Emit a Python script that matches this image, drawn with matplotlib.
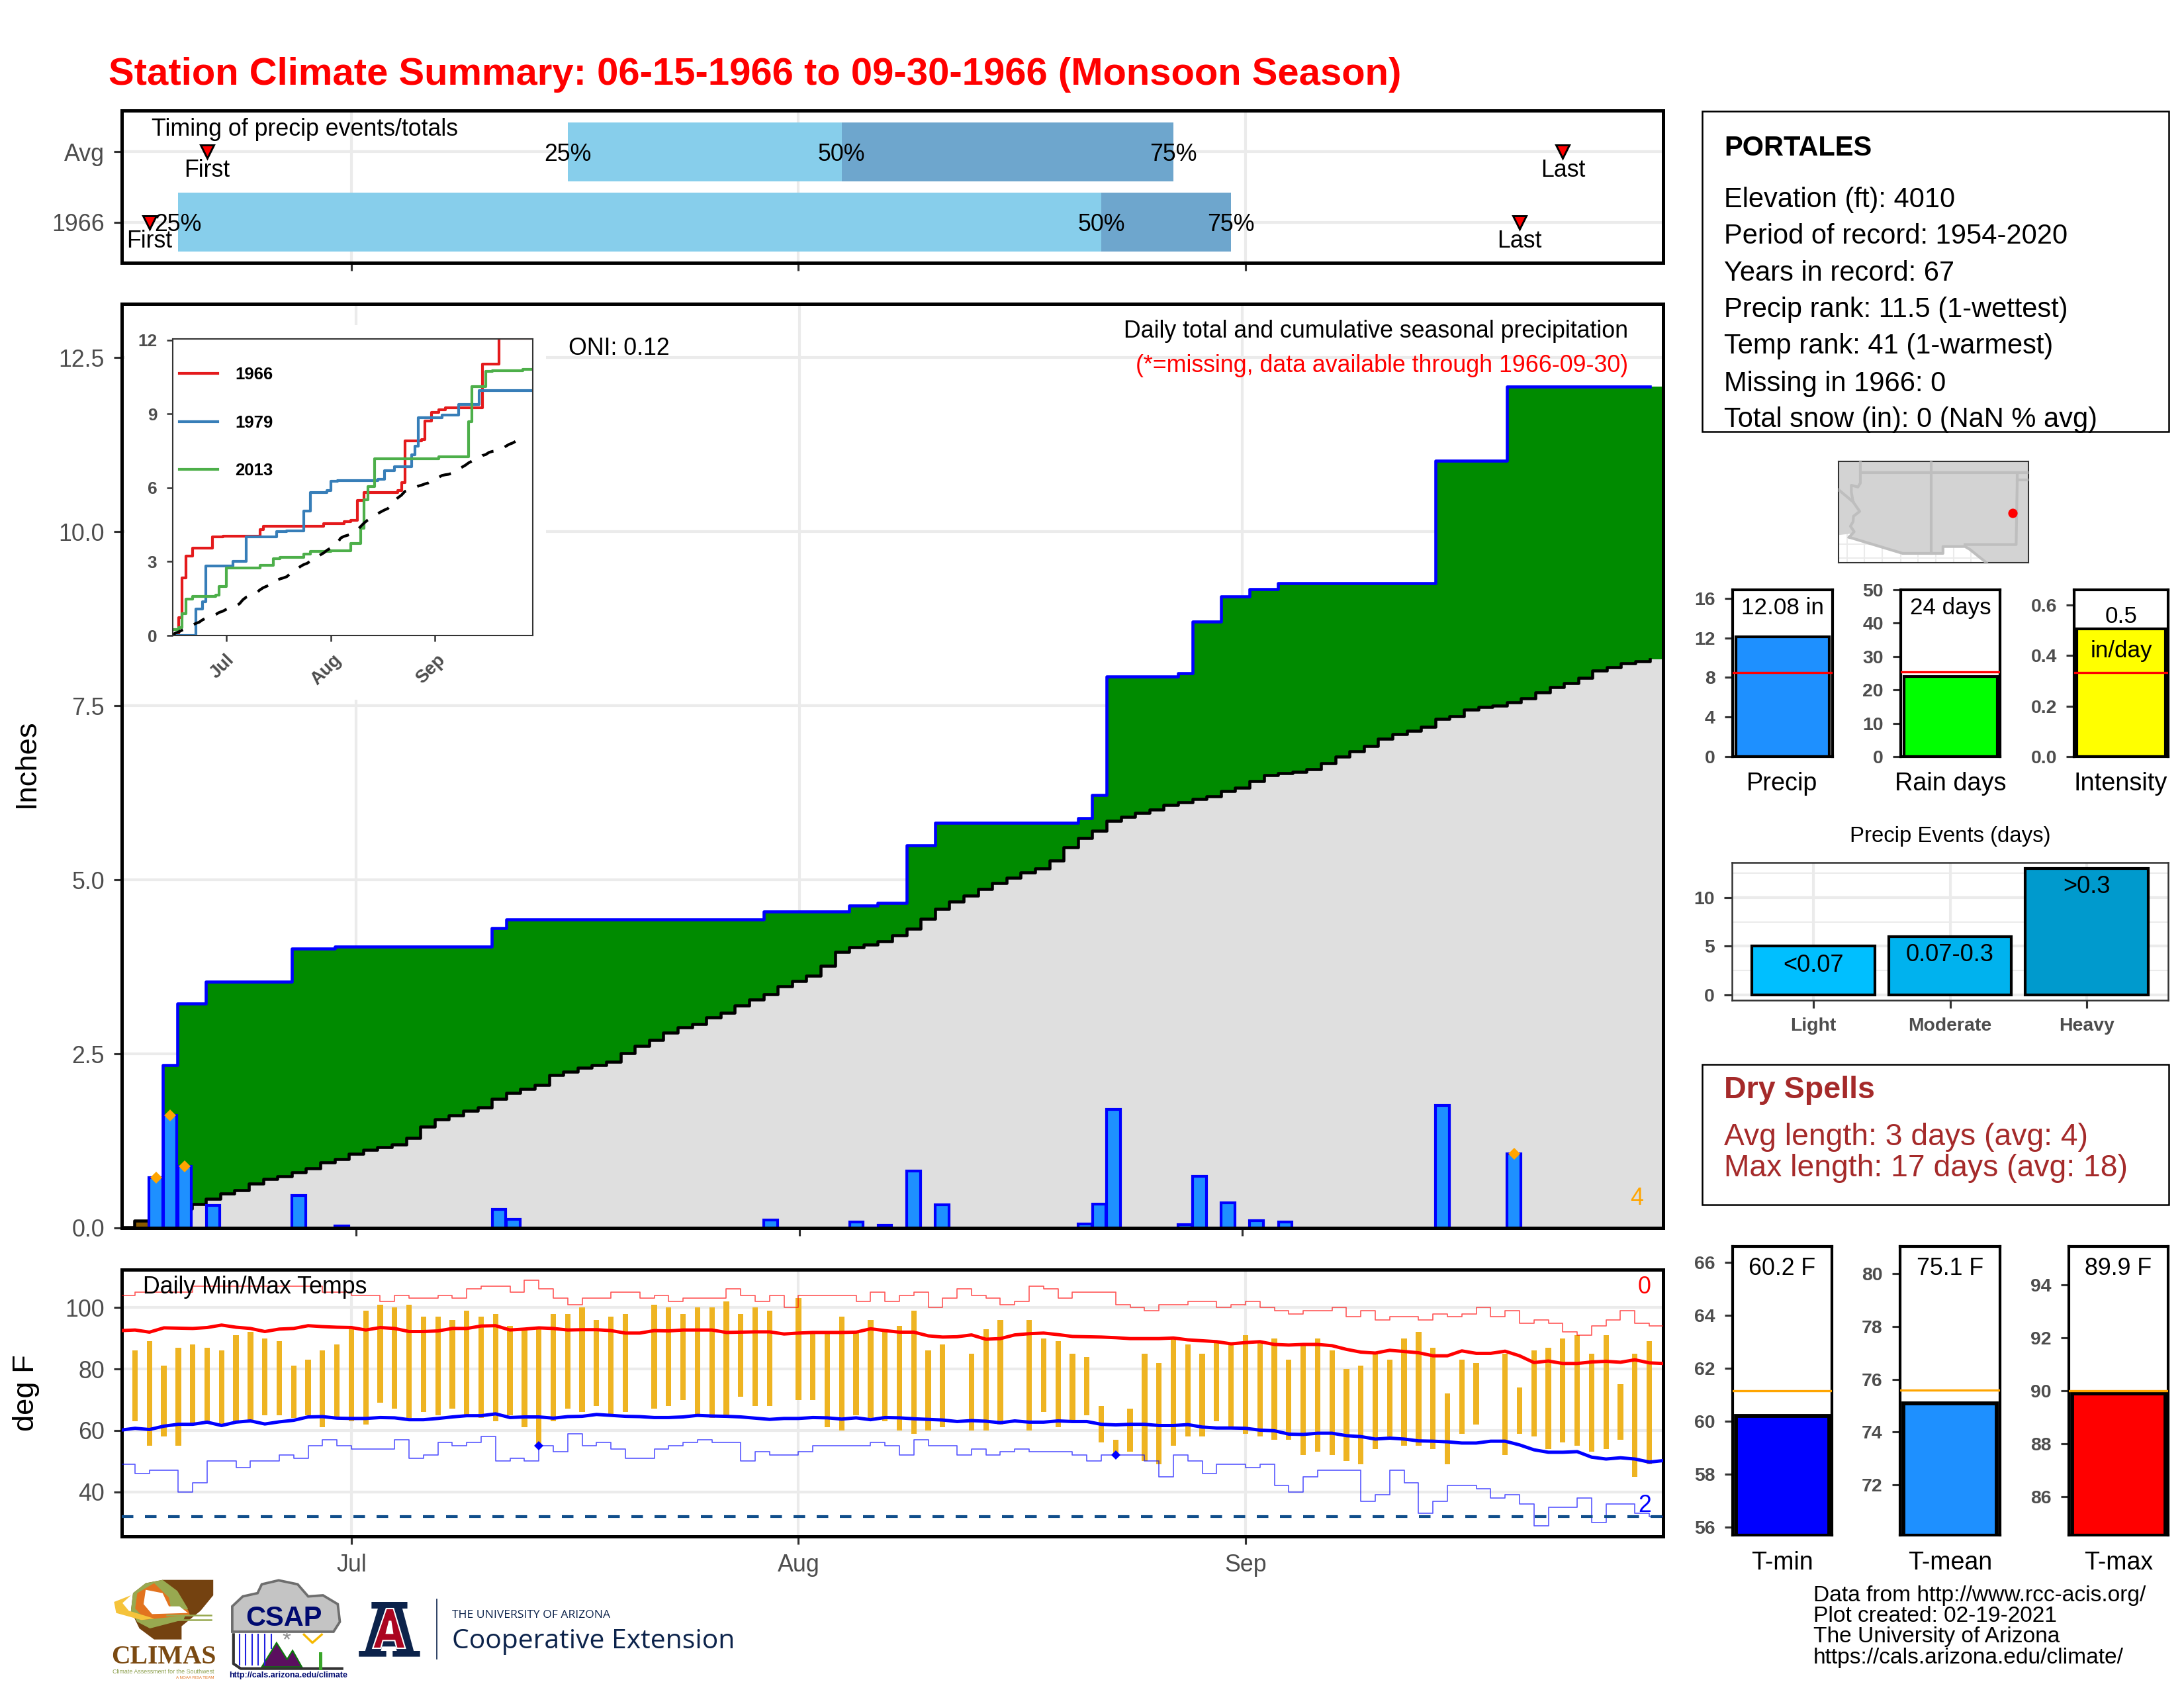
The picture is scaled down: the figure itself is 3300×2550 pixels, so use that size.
import numpy as np
import matplotlib
matplotlib.use('Agg')
import matplotlib.pyplot as plt
from matplotlib.patches import Polygon, Rectangle
from matplotlib.transforms import ScaledTranslation

plt.rcParams['font.family'] = ['Liberation Sans', 'DejaVu Sans']

W, H = 3300, 2550
na = np.nan

# x axis: days since Jun 15
days = np.arange(108)
month_days = [16, 47, 78]
month_labels = ['Jul', 'Aug', 'Sep']

# precip events (day index, inches)
rain_day = [2, 3, 4, 6, 12, 15, 26, 27, 45, 51, 53, 55, 57, 67, 68, 69, 74, 75, 77, 79, 81, 92, 97]
rain_amt = [.72, 1.62, .88, .32, .47, .03, .27, .12, .11, .09, .04, .82, .33, .06, .34, 1.70, .05, .74, .36, .10, .09, 1.76, 1.06]
record_rain_days = [2, 3, 4, 97]

# climatological cumulative precip
climo = [.01, .10, .15, .22, .28, .34, .42, .49, .54, .635, .70, .74, .80, .86, .94, .985, 1.06, 1.12,
         1.155, 1.20, 1.295, 1.455, 1.56, 1.615, 1.68, 1.73, 1.85, 1.94, 2.0, 2.05, 2.2, 2.24, 2.30,
         2.34, 2.39, 2.51, 2.61, 2.70, 2.80, 2.88, 2.93, 3.02, 3.09, 3.19, 3.28, 3.36, 3.47, 3.55,
         3.62, 3.76, 3.96, 4.03, 4.07, 4.12, 4.20, 4.30, 4.44, 4.58, 4.69, 4.77, 4.87, 4.95, 5.03,
         5.10, 5.16, 5.28, 5.47, 5.60, 5.70, 5.85, 5.90, 5.96, 6.01, 6.07, 6.11, 6.16, 6.20, 6.27,
         6.32, 6.42, 6.50, 6.53, 6.55, 6.59, 6.67, 6.77, 6.84, 6.92, 7.02, 7.09, 7.14, 7.20, 7.31,
         7.35, 7.44, 7.48, 7.50, 7.55, 7.60, 7.69, 7.77, 7.82, 7.90, 8.00, 8.05, 8.11, 8.14, 8.17]

# other wet years for the inset
y1979_day = [0, 7, 9, 10, 18, 22, 31, 34, 39, 41, 46, 47, 49, 61, 63, 66, 71, 72, 73, 80, 85, 91, 95]
y1979_cum = [0, 1.07, 1.36, 2.82, 3.01, 4.01, 4.22, 4.26, 5.07, 5.80, 5.89, 6.28, 6.30, 6.35, 6.69, 6.85,
             7.33, 7.69, 8.86, 8.96, 9.39, 9.94, 9.96]
y2013_day = [0, 2, 3, 4, 6, 13, 14, 16, 26, 30, 32, 39, 41, 47, 53, 56, 57, 58, 60, 79, 88, 89, 93, 95, 104]
y2013_cum = [.25, .32, .89, 1.47, 1.58, 1.64, 2.0, 2.74, 2.86, 3.11, 3.18, 3.32, 3.42, 3.45, 3.75, 4.37,
             5.51, 6.06, 7.18, 7.26, 8.69, 10.11, 10.73, 10.77, 10.82]

# daily temps
tmax_obs = [na, 86, 89, 81, 87, 88, 87, 86, 91, 92, 90,
            89, 81, 83, 86, 88, 93, 99, 101, 100, 101,
            97, 97, 96, 99, 97, 98, 94, 93, 93, 98,
            98, 100, 96, 97, 98, na, 101, 100, 98, 100,
            100, 102, 98, 100, 99, na, 103, 92, 92, 97,
            92, 96, 92, 94, 99, 86, 88, na, 85, 93,
            96, na, 96, 90, 89, 85, 84, 68, 57, 67,
            85, 82, 90, 88, 85, 89, 88, 91, 89, 90,
            83, 88, 90, 86, 80, 81, 85, 83, 90, 92,
            87, 72, 83, 82, na, 85, 74, 86, 87, 90,
            91, 85, 91, 75, 85, 89, na]
tmin_obs = [na, 63, 55, 58, 55, 62, 63, 62, 63, 63, 65,
            65, 64, 65, 61, 64, 63, 62, 69, 67, 64,
            66, 65, 67, 65, 64, 63, 65, 61, 55, 63,
            67, 66, 68, 65, 66, na, 67, 68, 70, 65,
            64, 65, 71, 68, 68, na, 70, 70, 61, 60,
            65, 64, 63, 60, 59, 60, 61, na, 60, 60,
            62, na, 60, 66, 61, 63, 65, 56, 52, 53,
            50, 49, 55, 58, 58, 63, 61, 59, 58, 57,
            57, 52, 53, 52, 50, 49, 54, 58, 55, 55,
            54, 49, 59, 62, na, 52, 59, 58, 54, 56,
            55, 53, 54, 57, 45, 49, na]
rec_max = [104, 105, 105, 105, 105, 107, 107, 107, 107, 107, 107, 107, 107, 107, 105, 105, 104, 104, 102, 104,
           103, 103, 104, 103, 106, 107, 107, 105, 109, 106, 103, 101, 103, 103, 105, 105, 103, 104, 102, 103,
           103, 103, 106, 104, 102, 104, 100, 104, 104, 104, 104, 102, 105, 102, 104, 105, 100, 103, 106, 104,
           103, 101, 102, 107, 106, 103, 105, 105, 105, 101, 100, 99, 101, 101, 102, 102, 100, 101, 102, 100,
           99, 98, 99, 99, 100, 97, 99, 96, 97, 97, 96, 98, 97, 98, 100, 97, 99, 95, 96, 95,
           92, 91, 94, 96, 99, 95, 94, 94]
rec_min = [49, 46, 47, 47, 40, 43, 50, 50, 48, 50, 50, 52, 51, 55, 57, 55, 54, 54, 54, 57,
           51, 52, 56, 55, 56, 58, 50, 51, 50, 55, 53, 59, 55, 56, 54, 51, 51, 54, 55, 56,
           57, 56, 56, 50, 53, 52, 52, 53, 55, 55, 55, 55, 56, 55, 52, 57, 55, 55, 52, 54,
           52, 53, 54, 53, 53, 53, 52, 50, 52, 52, 52, 50, 45, 52, 50, 46, 49, 49, 48, 49,
           42, 40, 45, 47, 47, 47, 37, 39, 47, 43, 33, 37, 42, 42, 41, 38, 39, 36, 29, 35,
           35, 38, 30, 36, 36, 33, 32, 32]
norm_max = [92.5, 92.7, 92.0, 93.4, 93.3, 93.2, 93.5, 94.3, 93.6, 93.2, 92.2, 93.0, 93.2, 94.1, 93.8, 93.6, 93.5,
            92.7, 93.5, 93.2, 92.2, 92.2, 92.4, 93.2, 93.2, 94.0, 94.1, 92.7, 93.0, 93.4, 93.2, 92.7, 92.8, 92.8,
            92.5, 91.7, 91.7, 92.5, 92.4, 92.7, 92.7, 92.7, 91.9, 92.0, 92.1, 92.1, 91.4, 91.7, 91.9, 91.9,
            91.9, 92.0, 93.1, 92.5, 92.0, 92.0, 90.8, 90.4, 90.5, 91.1, 89.7, 89.9, 91.1, 91.5, 91.7, 91.2,
            90.6, 90.5, 90.4, 90.2, 89.9, 89.9, 89.9, 90.1, 89.5, 89.2, 88.9, 88.2, 88.6, 88.9, 88.0, 87.8,
            88.0, 88.0, 87.6, 86.4, 85.5, 85.2, 86.1, 85.7, 85.3, 84.3, 84.3, 85.9, 85.1, 85.1, 85.8, 84.3,
            82.1, 82.6, 81.8, 81.8, 82.3, 82.5, 82.2, 83.0, 82.0, 81.8]
norm_min = [60.1, 60.7, 60.3, 61.4, 62.0, 62.0, 62.7, 61.6, 62.7, 63.1, 62.1, 62.8, 63.3, 64.4, 64.5, 64.0, 63.9,
            63.9, 64.2, 64.1, 63.5, 63.5, 63.9, 64.4, 64.8, 64.8, 65.4, 64.2, 64.4, 64.4, 64.0, 64.5, 64.6, 65.2,
            64.9, 64.6, 64.5, 64.2, 64.2, 64.4, 64.9, 64.7, 64.6, 64.4, 64.0, 63.6, 63.9, 63.9, 64.2, 64.1,
            63.7, 64.1, 63.5, 64.2, 64.1, 63.8, 63.6, 63.4, 62.9, 63.2, 63.0, 62.5, 63.1, 62.7, 62.7, 63.1,
            62.9, 62.9, 62.0, 61.8, 62.0, 62.0, 61.6, 61.6, 61.9, 61.1, 60.8, 60.8, 60.7, 60.1, 59.9, 58.8,
            58.7, 59.1, 59.1, 58.3, 58.0, 57.2, 57.5, 57.2, 56.6, 56.5, 56.3, 55.9, 55.9, 56.5, 56.5, 55.3,
            53.7, 52.9, 52.9, 53.1, 51.3, 50.7, 51.1, 50.7, 49.7, 50.2]
record_tmin_days = [29, 69]
record_tmin_vals = [55, 52]

# timing panel
timing_labels = ['1966', 'Avg']
timing_q25 = [4, 31]
timing_q50 = [68, 50]
timing_q75 = [77, 73]
timing_first = [2, 6]
timing_last = [97, 100]

# summary bars
precip_total, precip_avg = 12.08, 8.5
rain_days_total, rain_days_avg = 24, 25.4
intensity, intensity_avg = 0.505, 0.333
event_names = ['Light', 'Moderate', 'Heavy']
event_days = [5, 6, 13]
event_text = ['<0.07', '0.07-0.3', '>0.3']
event_colors = ['#00BFFF', '#00B2EE', '#009ACD']
temp_names = ['T-min', 'T-mean', 'T-max']
temp_vals = [60.2, 75.1, 89.9]
temp_avgs = [61.16, 75.6, 90.0]

station_lines = ['Elevation (ft): 4010', 'Period of record: 1954-2020', 'Years in record: 67',
                 'Precip rank: 11.5 (1-wettest)', 'Temp rank: 41 (1-warmest)', 'Missing in 1966: 0',
                 'Total snow (in): 0 (NaN % avg)']
credit_lines = ['Data from http://www.rcc-acis.org/', 'Plot created: 02-19-2021',
                'The University of Arizona', 'https://cals.arizona.edu/climate/']

GREY_TXT = '#4D4D4D'
GRID = '#EBEBEB'


def px_axes(fig, x0, y0, x1, y1, **kw):
    """axes from pixel box, y measured from the top of the image"""
    return fig.add_axes([x0 / W, 1 - y1 / H, (x1 - x0) / W, (y1 - y0) / H], **kw)


def px_text(x, y, s, **kw):
    kw.setdefault('ha', 'left')
    kw.setdefault('va', 'center')
    return fig.text(x / W, 1 - (y + 4) / H, s, **kw)


def style_axes(ax, lw=1.2, color='black'):
    for sp in ax.spines.values():
        sp.set_linewidth(lw)
        sp.set_color(color)
    ax.tick_params(length=2.8, width=0.75, color='#333333', labelcolor=GREY_TXT)
    ax.set_axisbelow(True)


fig = plt.figure(figsize=(W / 300, H / 300), dpi=300, facecolor='white')
px_text(164, 109, 'Station Climate Summary: 06-15-1966 to 09-30-1966 (Monsoon Season)',
        color='red', fontweight='bold', fontsize=13.92)

# timing panel
ax_t = px_axes(fig, 184, 167, 2513, 397)
style_axes(ax_t)
ax_t.grid(True, color=GRID, lw=1.0)
ypos = np.arange(2)
ax_t.barh(ypos, np.array(timing_q50) - np.array(timing_q25), left=timing_q25, height=0.833, color='#87CEEB', zorder=2)
ax_t.barh(ypos, np.array(timing_q75) - np.array(timing_q50), left=timing_q50, height=0.833, color='#6EA6CD', zorder=2)
ax_t.plot(timing_first, ypos, 'v', color='red', mec='black', mew=0.7, ms=5, zorder=3)
ax_t.plot(timing_last, ypos, 'v', color='red', mec='black', mew=0.7, ms=5, zorder=3)
for i in ypos:
    for val, lab in zip([timing_q25[i], timing_q50[i], timing_q75[i]], ['25%', '50%', '75%']):
        ax_t.text(val, i - 0.04, lab, ha='center', va='center', fontsize=8.6, zorder=4)
    ax_t.text(timing_first[i], i - 0.27, 'First', ha='center', va='center', fontsize=8.6, zorder=4)
    ax_t.text(timing_last[i], i - 0.27, 'Last', ha='center', va='center', fontsize=8.6, zorder=4)
ax_t.text(2.15, 1.315, 'Timing of precip events/totals', fontsize=8.6, va='center', zorder=4)
ax_t.set_xlim(0.08, 106.96)
ax_t.set_ylim(-0.576, 1.585)
ax_t.set_xticks(month_days)
ax_t.set_xticklabels([])
ax_t.set_yticks(ypos)
ax_t.set_yticklabels(timing_labels, fontsize=8.6)

# main precip panel
ax_m = px_axes(fig, 184, 459, 2513, 1855)
style_axes(ax_m)
ax_m.grid(True, color=GRID, lw=1.0)
daily = np.zeros(108)
daily[rain_day] = rain_amt
cum = np.cumsum(daily)
climo_arr = np.array(climo)
xstep = days - 0.5
x_fill = np.append(xstep, 107.44)
cum_fill = np.append(cum, cum[-1])
climo_fill = np.append(climo_arr, climo_arr[-1])
below = cum_fill < climo_fill
ax_m.fill_between(x_fill, 0, climo_fill, step='post', color='#DFDFDF', lw=0, zorder=2)
ax_m.fill_between(x_fill, climo_fill, cum_fill, where=~below, step='post', color='#008B00', lw=0, zorder=2)
# the last dry day needs the next point so the step is closed
ax_m.fill_between(x_fill, cum_fill, climo_fill, where=below | np.roll(below, 1), step='post', color='#8B5A00', lw=0, zorder=2)
ax_m.step(xstep, climo_arr, where='post', color='black', lw=1.1, zorder=3)
ax_m.step(xstep, cum, where='post', color='blue', lw=1.1, zorder=3)
ax_m.bar(rain_day, rain_amt, width=0.95, color='#1E90FF', edgecolor='blue', lw=1.0, zorder=4)
ax_m.plot(record_rain_days, daily[record_rain_days], 'D', color='#FFA500', ms=3, mew=0, zorder=5, clip_on=False)
ax_m.set_xlim(-0.39, 107.44)
ax_m.set_ylim(0, 13.27)
ax_m.set_xticks(month_days)
ax_m.set_xticklabels([])
ax_m.set_yticks([0, 2.5, 5, 7.5, 10, 12.5])
ax_m.set_yticklabels(['0.0', '2.5', '5.0', '7.5', '10.0', '12.5'], fontsize=8.6)
ax_m.spines['bottom'].set_zorder(6)
px_text(40, 1149, 'Inches', rotation=90, ha='center', fontsize=10.9)
px_text(2460, 497, 'Daily total and cumulative seasonal precipitation', ha='right', fontsize=8.6)
px_text(2460, 549, '(*=missing, data available through 1966-09-30)', ha='right', color='red', fontsize=8.6)
px_text(859, 522, 'ONI: 0.12', fontsize=8.6)
px_text(2473, 1806, '4', ha='center', color='#FFA500', fontsize=8.6)

# inset, on a white patch that covers the main grid
fig.add_artist(Rectangle((189 / W, 1 - 1057 / H), 636 / W, 566 / H, transform=fig.transFigure, fc='white', ec='none', zorder=2.5))
ax_i = px_axes(fig, 261, 512, 805, 960, zorder=3)
style_axes(ax_i, lw=0.5, color='#333333')
ax_i.tick_params(length=2.2, width=0.6, labelsize=6)
ax_i.step(days, cum, where='post', color='#E41A1C', lw=1.0)
ax_i.step(y1979_day + [107], y1979_cum + [y1979_cum[-1]], where='post', color='#377EB8', lw=1.0)
ax_i.step(y2013_day + [107], y2013_cum + [y2013_cum[-1]], where='post', color='#4DAF4A', lw=1.0)
ax_i.plot(days[:106], climo_arr[:106], color='black', lw=1.0, dashes=(4.4, 4.4))
ax_i.set_xlim(0.17, 106.97)
ax_i.set_ylim(0, 12.05)
ax_i.set_xticks(month_days)
ax_i.set_xticklabels(month_labels, rotation=45, fontweight='bold', fontsize=6.6)
for lab in ax_i.get_xticklabels():
    lab.set_transform(lab.get_transform() + ScaledTranslation(-1.5 / 72, 0, fig.dpi_scale_trans))
ax_i.set_yticks([0, 3, 6, 9, 12])
ax_i.set_yticklabels(['0', '3', '6', '9', '12'], fontweight='bold', fontsize=6.3)
for yy, (lab, col) in zip([564, 637, 709], [('1966', '#E41A1C'), ('1979', '#377EB8'), ('2013', '#4DAF4A')]):
    fig.add_artist(plt.Line2D([271 / W, 329 / W], [1 - yy / H] * 2, color=col, lw=1.0, zorder=4))
    t = px_text(355, yy - 2, lab, fontweight='bold', fontsize=6.2)
    t.set_zorder(4)

# daily temps
ax_d = px_axes(fig, 184, 1918, 2513, 2321)
style_axes(ax_d)
ax_d.grid(True, color=GRID, lw=1.0)
tmax_arr = np.array(tmax_obs)
tmin_arr = np.array(tmin_obs)
ax_d.bar(days, tmax_arr - tmin_arr, bottom=tmin_arr, width=0.38, color='#EEB422', zorder=2)
ax_d.step(days, rec_max, where='post', color='red', lw=0.4, alpha=0.65, zorder=3)
ax_d.step(days, rec_min, where='post', color='blue', lw=0.4, alpha=0.65, zorder=3)
ax_d.plot(days, norm_max, color='red', lw=1.2, zorder=4)
ax_d.plot(days, norm_min, color='blue', lw=1.2, zorder=4)
ax_d.axhline(32, color='#104E8B', lw=1, dashes=(4.2, 4.2), zorder=3)
ax_d.plot(record_tmin_days, record_tmin_vals, 'D', color='blue', ms=2.3, mew=0, zorder=5)
ax_d.set_xlim(0.08, 106.96)
ax_d.set_ylim(25.5, 112.35)
ax_d.set_xticks(month_days)
ax_d.set_xticklabels(month_labels, fontsize=8.6)
ax_d.set_yticks([40, 60, 80, 100])
ax_d.set_yticklabels(['40', '60', '80', '100'], fontsize=8.6)
px_text(40, 2100, 'deg F', rotation=90, ha='center', fontsize=10.9)
px_text(216, 1941, 'Daily Min/Max Temps', fontsize=8.6)
px_text(2485, 1941, '0', ha='center', color='red', fontsize=8.6)
px_text(2485, 2270, '2', ha='center', color='blue', fontsize=8.6)

# station box
fig.add_artist(Rectangle((2572 / W, 1 - 652 / H), 705 / W, 484 / H, transform=fig.transFigure, fc='none', ec='black', lw=0.6))
px_text(2605, 220, 'PORTALES', fontweight='bold', fontsize=10)
for yy, line in zip([298, 353, 409, 464, 519, 576, 630], station_lines):
    px_text(2605, yy, line, fontsize=10)

# locator map, coordinates are in the map's own frame
map_land_x = [234, 1096, 1096, 905, 880, 830, 808, 808, 708, 708, 525, 282, 300, 234]
map_land_y = [52, 52, 510, 510, 490, 450, 430, 437, 437, 468, 468, 395, 378, 385]
map_borders = [
    ([335, 1096], [103, 103]),
    ([655, 655], [52, 468]),
    ([333, 333, 322, 292, 292, 300, 330, 302, 300, 288, 305, 282], [52, 150, 168, 160, 190, 235, 278, 300, 325, 345, 370, 395]),
    ([234, 300], [180, 235]),
    ([1045, 1045, 1040, 808], [103, 135, 428, 428]),
    ([1045, 1096], [135, 135]),
    ([282, 525, 708, 708, 808, 830, 880, 905], [395, 468, 468, 437, 437, 450, 490, 510]),
]
ax_g = px_axes(fig, 2778, 697, 3065, 850)
style_axes(ax_g, lw=0.5, color='#333333')
ax_g.set_xticks([])
ax_g.set_yticks([])
for gx in [273, 352, 433, 515, 595, 677, 757, 836]:
    ax_g.axvline(gx, color=GRID, lw=0.5)
for gy in [425, 490]:
    ax_g.axhline(gy, color=GRID, lw=0.5)
ax_g.add_patch(Polygon(np.column_stack([map_land_x, map_land_y]), fc='#D3D3D3', ec='none', zorder=2))
for bx, by in map_borders:
    ax_g.plot(bx, by, color='#BEBEBE', lw=1.0, zorder=3)
ax_g.plot([1023], [286], 'o', color='red', ms=3.4, mew=0, zorder=4)
ax_g.set_xlim(234, 1096)
ax_g.set_ylim(510, 52)


def stat_bar(box, val, avg, ylim, ticks, ticklabs, color, line_color='red', bar_lw=1.0):
    ax = px_axes(fig, *box)
    style_axes(ax, lw=1.0)
    ax.bar(0, val, width=0.94, color=color, edgecolor='black', lw=bar_lw, zorder=2)
    ax.plot([-0.5, 0.5], [avg, avg], color=line_color, lw=0.8, zorder=3)
    ax.set_xlim(-0.5, 0.5)
    ax.set_ylim(*ylim)
    ax.set_xticks([])
    ax.set_yticks(ticks)
    ax.set_yticklabels(ticklabs, fontweight='bold', fontsize=6.8)
    return ax


# summary bars
ax1 = stat_bar((2618, 891, 2769, 1143), precip_total, precip_avg, (0, 16.85), [0, 4, 8, 12, 16],
               ['0', '4', '8', '12', '16'], '#1E90FF')
ax1.text(0, 15.0, '12.08 in', ha='center', va='center', fontsize=8.4, zorder=5)
ax2 = stat_bar((2872, 891, 3022, 1143), rain_days_total, rain_days_avg, (0, 50), [0, 10, 20, 30, 40, 50],
               ['0', '10', '20', '30', '40', '50'], '#00FF00')
ax2.text(0, 44.6, '24 days', ha='center', va='center', fontsize=8.4, zorder=5)
ax3 = stat_bar((3134, 891, 3276, 1143), intensity, intensity_avg, (0, 0.66), [0, 0.2, 0.4, 0.6],
               ['0.0', '0.2', '0.4', '0.6'], '#FFFF00')
ax3.text(0, 0.555, '0.5', ha='center', va='center', fontsize=8.4, zorder=5)
ax3.text(0, 0.417, 'in/day', ha='center', va='center', fontsize=8.4, zorder=5)
for xx, lab in zip([2693, 2947, 3204], ['Precip', 'Rain days', 'Intensity']):
    px_text(xx, 1180, lab, ha='center', fontsize=9.1)

# precip events
px_text(2947, 1260, 'Precip Events (days)', ha='center', fontsize=7.9)
ax_e = px_axes(fig, 2617, 1303, 3276, 1511)
style_axes(ax_e, lw=0.6, color='#333333')
ax_e.grid(True, color=GRID, lw=1.0)
ax_e.set_yticks([2.5, 7.5, 12.5], minor=True)
ax_e.grid(True, which='minor', axis='y', color=GRID, lw=0.5)
ax_e.tick_params(which='minor', length=0)
ax_e.bar(range(3), event_days, width=0.9, color=event_colors, edgecolor='black', lw=1.0, zorder=2)
for i, y_txt in enumerate([3.0, 4.1, 11.1]):
    ax_e.text(i, y_txt, event_text[i], ha='center', va='center', fontsize=8.7, zorder=3)
ax_e.set_xlim(-0.595, 2.595)
ax_e.set_ylim(-0.565, 13.6)
ax_e.set_xticks(range(3))
ax_e.set_xticklabels(event_names, fontweight='bold', fontsize=6.8)
ax_e.set_yticks([0, 5, 10])
ax_e.set_yticklabels(['0', '5', '10'], fontweight='bold', fontsize=6.8)

# dry spells box
fig.add_artist(Rectangle((2572 / W, 1 - 1820 / H), 705 / W, 212 / H, transform=fig.transFigure, fc='none', ec='black', lw=0.6))
px_text(2605, 1643, 'Dry Spells', color='#A52A2A', fontweight='bold', fontsize=11.2)
px_text(2605, 1714, 'Avg length: 3 days (avg: 4)', color='#A52A2A', fontsize=11.1)
px_text(2605, 1761, 'Max length: 17 days (avg: 18)', color='#A52A2A', fontsize=11.1)

# temperature summary
temp_boxes = [(2618, 1883, 2768, 2319), (2871, 1883, 3022, 2319), (3126, 1883, 3276, 2319)]
temp_ylims = [(55.7, 66.6), (70.1, 81.03), (84.55, 95.46)]
temp_ticks = [[56, 58, 60, 62, 64, 66], [72, 74, 76, 78, 80], [86, 88, 90, 92, 94]]
temp_colors = ['#0000FF', '#1E90FF', '#FF0000']
for i in range(3):
    ax = stat_bar(temp_boxes[i], temp_vals[i], temp_avgs[i], temp_ylims[i], temp_ticks[i],
                  [str(t) for t in temp_ticks[i]], temp_colors[i], line_color='#FFA500', bar_lw=1.4)
    xmid = 0.5 * (temp_boxes[i][0] + temp_boxes[i][2])
    px_text(xmid, 1913, '%.1f F' % temp_vals[i], ha='center', fontsize=8.6, zorder=6)
    px_text(xmid, 2357, temp_names[i], ha='center', fontsize=9)

# credits
for yy, line in zip([2406, 2437, 2469, 2500], credit_lines):
    px_text(2740, yy, line, fontsize=8.05)

# logos, drawn in the zoomed logo frame
ax_l = px_axes(fig, 150, 2350, 1150, 2550, zorder=0)
ax_l.set_xlim(0, 1568)
ax_l.set_ylim(600, 0)
ax_l.axis('off')
NAVY = '#0C234B'
ax_l.add_patch(Polygon([(150, 110), (270, 110), (270, 180), (240, 250), (195, 320), (195, 380), (130, 380), (95, 330), (75, 250), (80, 170), (110, 125)], fc='#744210'))
ax_l.add_patch(Polygon([(150, 110), (185, 160), (210, 240), (200, 290), (120, 330), (90, 300), (75, 250), (80, 170), (110, 125)], fc='#98A950'))
ax_l.add_patch(Polygon([(130, 125), (165, 190), (170, 240), (210, 245), (215, 270), (110, 290), (85, 240), (90, 170)], fc='#E2731F'))
ax_l.add_patch(Polygon([(110, 155), (150, 170), (165, 230), (190, 230), (210, 260), (125, 265), (105, 220)], fc='white'))
ax_l.add_patch(Polygon([(75, 180), (35, 210), (40, 260), (100, 292), (130, 285), (70, 250), (55, 215)], fc='#F5C33B'))
ax_l.plot([160, 265], [270, 270], color='#98A950', lw=0.6)
ax_l.plot([160, 265], [290, 290], color='#98A950', lw=0.6)
ax_l.text(152, 460, 'CLIMAS', family='Liberation Serif', fontweight='bold', color='#7B4A12', fontsize=9.5, ha='center', va='center')
ax_l.text(152, 525, 'Climate Assessment for the Southwest', color='#8CA04E', fontsize=2.15, ha='center', va='center')
ax_l.text(227, 552, 'A NOAA RISA TEAM', color='#E2731F', fontsize=1.5, ha='center', va='center')
ax_l.add_patch(Polygon([(315, 345), (315, 230), (340, 185), (375, 170), (385, 130), (425, 112), (470, 130), (495, 185), (530, 180), (565, 220), (570, 300), (555, 345)], fc='#C4C4C4', ec='#6E6E6E', lw=0.9))
ax_l.text(437, 285, 'CSAP', color='#000A70', fontweight='bold', fontsize=10, ha='center', va='center')
for rx in [332, 347, 362, 377, 392, 408]:
    ax_l.plot([rx, rx], [358, 495 if rx < 400 else 420], color='#2020E0', lw=0.5)
ax_l.plot([318, 318, 335, 575], [358, 490, 512, 512], color='#333333', lw=1.0)
ax_l.add_patch(Polygon([(385, 505), (420, 395), (445, 470), (458, 430), (480, 505)], fc='#5B0F5F', ec='#0A7A0A', lw=0.5))
ax_l.plot([485, 505, 527], [358, 395, 358], color='#F5B800', lw=0.8)
ax_l.text(444, 385, '*', color='#909090', fontsize=8, ha='center', va='center')
ax_l.plot([524, 524], [445, 510], color='#3AA52A', lw=1.2)
ax_l.text(448, 543, 'http://cals.arizona.edu/climate', color='#000A70', fontweight='bold', fontsize=3.0, ha='center', va='center')
ax_l.add_patch(Polygon([(645, 210), (730, 210), (730, 240), (718, 240), (745, 432), (760, 432), (760, 458), (695, 458), (695, 432), (705, 432), (702, 412), (670, 412), (667, 432), (680, 432), (680, 458), (615, 458), (615, 432), (630, 432), (660, 240), (645, 240)], fc=NAVY))
ax_l.add_patch(Polygon([(680, 240), (697, 240), (725, 420), (705, 420), (700, 385), (672, 385), (667, 420), (648, 420)], fc='#AB0520', ec='white', lw=0.5))
ax_l.add_patch(Polygon([(686, 295), (692, 295), (697, 355), (678, 355)], fc='white', ec='none'))
ax_l.plot([800, 800], [198, 468], color=NAVY, lw=0.4)
ax_l.text(835, 270, 'THE UNIVERSITY OF ARIZONA', color=NAVY, fontsize=4.2, family='Open Sans', va='center')
ax_l.text(835, 390, 'Cooperative Extension', color=NAVY, fontsize=9.8, family='Open Sans', va='center')

fig.savefig('out.png', dpi=300, facecolor='white')
